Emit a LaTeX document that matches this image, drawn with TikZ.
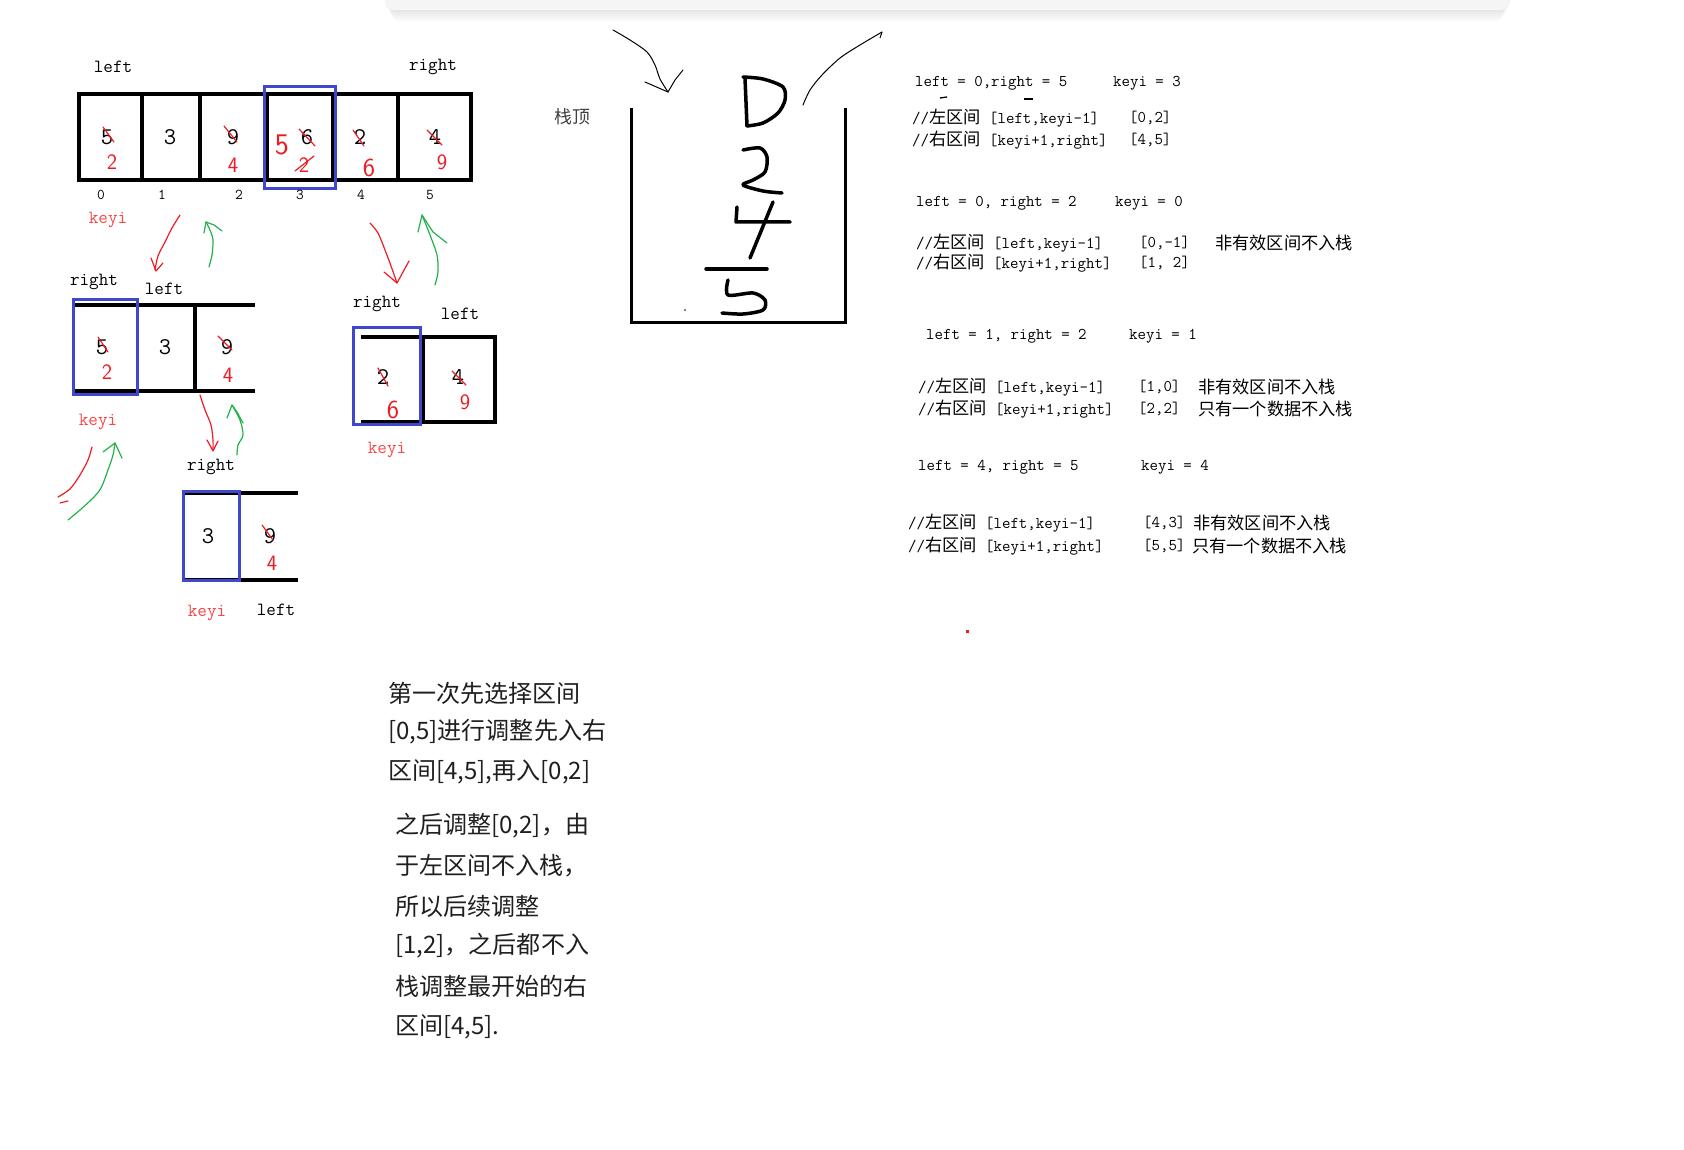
\documentclass[tikz,border=0pt]{standalone}
\usepackage{fontspec}
\newfontfamily\cjk[Scale=1.05]{Noto Sans CJK SC}
\usepackage{tikz}
\usetikzlibrary{positioning}

\definecolor{penred}{RGB}{237,28,36}
\definecolor{pengreen}{RGB}{34,177,76}
\definecolor{boxblue}{RGB}{63,72,204}
\definecolor{keyired}{RGB}{250,70,70}

\tikzset{
  lbl/.style={font=\ttfamily\fontsize{18.6}{21}\selectfont, inner sep=0pt},
  val/.style={font=\ttfamily\fontsize{24}{26}\selectfont, inner sep=0pt},
  idx/.style={font=\ttfamily\fontsize{15}{17}\selectfont, inner sep=0pt},
  keyi/.style={lbl, text=keyired},
  hand/.style={font=\sffamily\fontsize{22}{24}\selectfont, text=penred, inner sep=0pt},
  code/.style={font=\ttfamily\fontsize{16.4}{19}\selectfont, anchor=west, inner sep=0pt},
  note/.style={font=\cjk\fontsize{22.9}{26}\selectfont, anchor=west, inner sep=0pt, text=black!88},
  cell/.style={line width=3.5pt},
  keybox/.style={draw=boxblue, line width=3pt},
  strike/.style={penred, line width=1.2pt, line cap=round},
  redpen/.style={penred, line width=1.2pt, line cap=round, line join=round},
  greenpen/.style={pengreen, line width=1.2pt, line cap=round, line join=round},
  pen/.style={black, line width=3.5pt, line cap=round, line join=round},
}

\begin{document}
\begin{tikzpicture}[x=1pt, y=-1pt]
\useasboundingbox (0,0) rectangle (1684,1150);

% toolbar shadow at the top
\foreach \k in {1,...,6}
  \fill[black, opacity=0.015, rounded corners=10pt] (385+\k,-20) rectangle (1510-\k,10+2*\k);
\fill[black!4, rounded corners=8pt] (385,-20) rectangle (1510,10);

% first array [0,5]
\node[lbl] (l1) at (113,67) {left};
\node[lbl] (r1) at (433,67) {right};
\draw[cell] (79,94) rectangle (471,180);
\foreach \x in {142,200,267,333,398} \draw[cell] (\x,94) -- (\x,180);
\draw[keybox] (264,87) rectangle (335,189);

\node[val] (v0) at (107,137) {5};
\node[val] (v1) at (170,137) {3};
\node[val] (v2) at (233,137) {9};
\node[val] (v3) at (307,137) {6};
\node[val] (v4) at (360,137) {2};
\node[val] (v5) at (435,137) {4};
\draw[strike] (103,127) -- (114,142);
\draw[strike] (224,126) -- (237,142);
\draw[strike] (299,129) -- (315,146);
\draw[strike] (353,130) -- (364,146);
\draw[strike] (427,130) -- (442,145);

\node[hand] (h0) at (112,162) {2};
\node[hand] (h2) at (233,165) {4};
\node[hand, font=\sffamily\fontsize{30}{32}\selectfont] (h3a) at (282,145) {5};
\node[hand] (h3) at (304,165) {2};
\draw[strike] (295,171) -- (314,156);
\node[hand, font=\sffamily\fontsize{26}{28}\selectfont] (h4) at (369,168) {6};
\node[hand] (h5) at (442,162) {9};

\node[idx] (i0) at (101,195) {0};
\node[idx] (i1) at (162,195) {1};
\node[idx] (i2) at (239,195) {2};
\node[idx] (i3) at (300,195) {3};
\node[idx] (i4) at (361,195) {4};
\node[idx] (i5) at (430,195) {5};
\node[keyi] (k1) at (108,220) {keyi};

% arrows down to the two halves
\draw[redpen] plot[smooth] coordinates {(180,215) (172,228) (165,242) (158,256) (155,270)};
\draw[redpen] (151,258) -- (156,271) -- (163,263);
\draw[greenpen] plot[smooth] coordinates {(209,267) (212,255) (213,240) (210,230) (206,222)};
\draw[greenpen] (204,233) -- (206,222) -- (214,225) -- (222,231);
\draw[redpen] plot[smooth] coordinates {(370,223) (378,233) (385,250) (391,266) (397,283)};
\draw[redpen] (384,272) -- (397,283) -- (409,261);
\draw[greenpen] plot[smooth] coordinates {(435,285) (438,272) (437,255) (430,235) (422,215)};
\draw[greenpen] (418,232) -- (422,215) -- (433,232) -- (447,243);

% left half [0,2]
\node[lbl] (r2) at (94,282) {right};
\node[lbl] (l2) at (164,289) {left};
\draw[cell] (75,305) -- (255,305);
\draw[cell] (75,391) -- (255,391);
\draw[cell] (195,305) -- (195,391);
\draw[keybox] (73,300) rectangle (137,394);
\node[val] (w0) at (102,347) {5};
\node[val] (w1) at (165,347) {3};
\node[val] (w2) at (227,347) {9};
\draw[strike] (98,337) -- (108,352);
\draw[strike] (218,336) -- (232,350);
\node[hand] (g0) at (107,372) {2};
\node[hand] (g2) at (228,375) {4};
\node[keyi] (k2) at (98,422) {keyi};

% right half [4,5]
\node[lbl] (r3) at (377,304) {right};
\node[lbl] (l3) at (460,314) {left};
\draw[cell] (361,337) -- (495,337) -- (495,422) -- (361,422);
\draw[cell] (423,337) -- (423,422);
\draw[keybox] (353,328) rectangle (420,424);
\node[val] (u4) at (383,377) {2};
\node[val] (u5) at (458,377) {4};
\draw[strike] (378,368) -- (388,386);
\draw[strike] (452,371) -- (466,385);
\node[hand, font=\sffamily\fontsize{26}{28}\selectfont] (f4) at (393,410) {6};
\node[hand] (f5) at (465,402) {9};
\node[keyi] (k3) at (387,450) {keyi};

% arrows to [1,2]
\draw[redpen] plot[smooth] coordinates {(200,395) (205,410) (211,425) (213,440) (213,450)};
\draw[redpen] (207,440) -- (213,451) -- (218,441);
\draw[greenpen] plot[smooth] coordinates {(237,455) (238,445) (243,435) (240,420) (232,405)};
\draw[greenpen] (227,418) -- (232,405) -- (237,412) -- (243,423);
\draw[redpen] plot[smooth] coordinates {(92,447) (88,460) (80,475) (70,489) (58,497)};
\draw[redpen] (60,503) -- (68,501);
\draw[greenpen] plot[smooth] coordinates {(68,520) (80,510) (93,498) (101,488) (108,470) (113,455) (115,443)};
\draw[greenpen] (103,452) -- (115,443) -- (122,458);

% [1,2]
\node[lbl] (r4) at (211,467) {right};
\draw[cell] (183,493) -- (298,493);
\draw[cell] (183,580) -- (298,580);
\draw[keybox] (183,491) rectangle (239,580);
\node[val] (t1) at (208,536) {3};
\node[val] (t2) at (270,536) {9};
\draw[strike] (262,525) -- (273,540);
\node[hand] (s2) at (272,563) {4};
\node[keyi] (k4) at (207,613) {keyi};
\node[lbl] (l4) at (276,610) {left};

% stack
\node[font=\cjk\fontsize{17}{20}\selectfont, text=black!75, inner sep=0pt] (top) at (572,117) {栈顶};
\draw[line width=3pt] (631,108) -- (631,323) -- (845,323) -- (845,108);
\draw[line width=1pt, line cap=round] plot[smooth] coordinates {(613,30) (630,40) (647,52) (655,65) (660,79) (668,92)};
\draw[line width=1pt, line cap=round] (645,82) -- (668,92) -- (675,80) -- (683,70);
\draw[line width=1pt, line cap=round] plot[smooth] coordinates {(803,105) (810,90) (822,75) (840,58) (860,45) (882,32)};
\draw[line width=1pt] (880,38) -- (882,32);
\draw[pen] (745,78) -- (747,126);
\draw[pen] plot[smooth] coordinates {(743,77) (763,79) (783,87) (785,100) (778,113) (763,123) (747,126)};
\draw[pen] plot[smooth] coordinates {(743,150) (760,148) (767,157) (765,172) (753,180) (743,185) (763,191) (782,193)};
\draw[pen] (737,207) -- (736,222) -- (790,222);
\draw[pen] (773,202) -- (750,258);
\draw[pen] (706,269) -- (767,269);
\draw[pen] plot[smooth] coordinates {(728,280) (728,295) (753,293) (765,300) (763,310) (743,314) (722,313)};
\fill (685,310) circle (0.8);

% notes on the right
\node[code] (c1) at (915,83) {left = 0,right = 5};
\node[code] (c1k) at (1113,83) {keyi = 3};
\draw[line width=1.3pt] (940,98) -- (947,97);
\draw[line width=1.3pt] (1024,99) -- (1033,99);
\node[code] (c2) at (912,118) {//{\cjk 左区间} [left,keyi-1]};
\node[code] (c2r) at (1129,118) {[0,2]};
\node[code] (c3) at (912,140) {//{\cjk 右区间} [keyi+1,right]};
\node[code] (c3r) at (1129,140) {[4,5]};

\node[code] (d1) at (916,203) {left = 0, right = 2};
\node[code] (d1k) at (1115,203) {keyi = 0};
\node[code] (d2) at (916,243) {//{\cjk 左区间} [left,keyi-1]};
\node[code] (d2r) at (1139,243) {[0,-1]};
\node[code] (d2n) at (1215,243) {\cjk 非有效区间不入栈};
\node[code] (d3) at (916,263) {//{\cjk 右区间} [keyi+1,right]};
\node[code] (d3r) at (1139,263) {[1, 2]};

\node[code] (e1) at (926,336) {left = 1, right = 2};
\node[code] (e1k) at (1129,336) {keyi = 1};
\node[code] (e2) at (918,387) {//{\cjk 左区间} [left,keyi-1]};
\node[code] (e2r) at (1138,387) {[1,0]};
\node[code] (e2n) at (1198,387) {\cjk 非有效区间不入栈};
\node[code] (e3) at (918,409) {//{\cjk 右区间} [keyi+1,right]};
\node[code] (e3r) at (1138,409) {[2,2]};
\node[code] (e3n) at (1198,409) {\cjk 只有一个数据不入栈};

\node[code] (f1) at (918,467) {left = 4, right = 5};
\node[code] (f1k) at (1141,467) {keyi = 4};
\node[code] (f2) at (908,523) {//{\cjk 左区间} [left,keyi-1]};
\node[code] (f2r) at (1143,523) {[4,3]};
\node[code] (f2n) at (1193,523) {\cjk 非有效区间不入栈};
\node[code] (f3) at (908,546) {//{\cjk 右区间} [keyi+1,right]};
\node[code] (f3r) at (1143,546) {[5,5]};
\node[code] (f3n) at (1192,546) {\cjk 只有一个数据不入栈};

\fill[penred] (966,630) rectangle (969,633);

% explanation
\node[note] (p1) at (388,693) {第一次先选择区间};
\node[note] (p2) at (388,732) {[0,5]进行调整先入右};
\node[note] (p3) at (388,772) {区间[4,5],再入[0,2]};
\node[note] (p4) at (395,826) {之后调整[0,2]，由};
\node[note] (p5) at (395,866) {于左区间不入栈，};
\node[note] (p6) at (395,906) {所以后续调整};
\node[note] (p7) at (395,946) {[1,2]，之后都不入};
\node[note] (p8) at (395,986) {栈调整最开始的右};
\node[note] (p9) at (395,1027) {区间[4,5].};
\end{tikzpicture}
\end{document}
